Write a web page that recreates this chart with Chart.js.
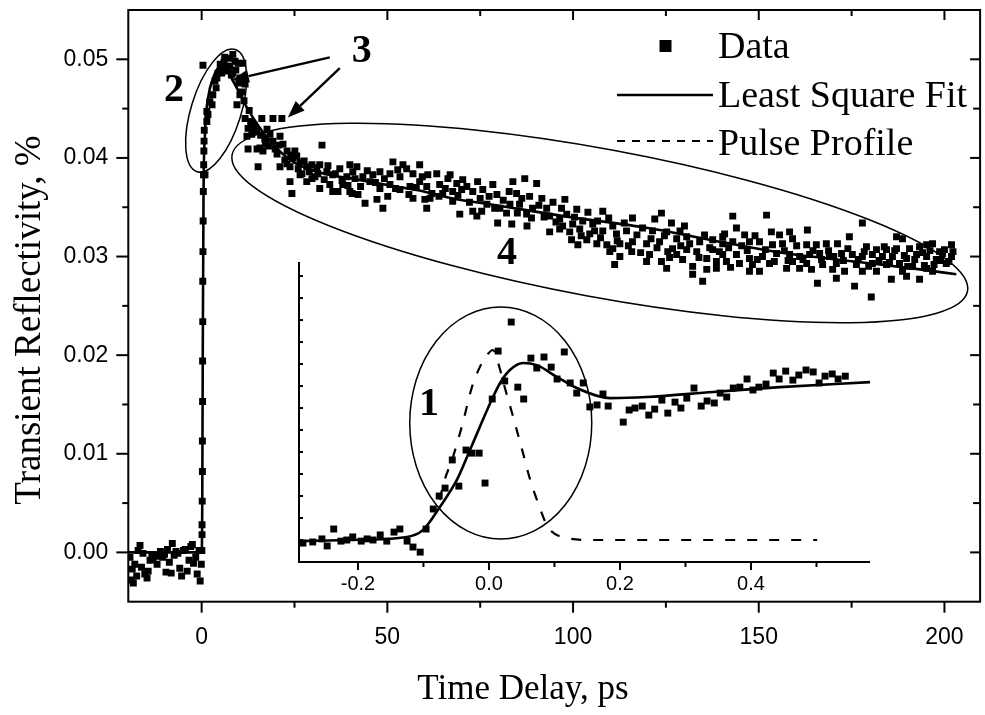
<!DOCTYPE html>
<html>
<head>
<meta charset="utf-8">
<script src="https://cdn.jsdelivr.net/npm/chart.js@4.4.0/dist/chart.umd.min.js"></script>
<style>
  html, body { margin: 0; padding: 0; background: #fff; }
  #wrap { position: relative; width: 985px; height: 715px; }
  #main { position: absolute; left: 0; top: 0; }
  #inset { position: absolute; left: 250px; top: 250px; }
</style>
</head>
<body>
<div id="wrap">
  <canvas id="main" width="985" height="715"></canvas>
  <canvas id="inset" width="640" height="370"></canvas>
</div>
<script>
"use strict";
const $ = id => document.getElementById(id);

/* ---------- data ---------- */
const seriesNames = ["Data", "Least Square Fit", "Pulse Profile"];
const xTicks = [0, 50, 100, 150, 200];
const xMinor = [25, 75, 125, 175];
const yTicks = [0, 0.01, 0.02, 0.03, 0.04, 0.05];
const yMinor = [0.005, 0.015, 0.025, 0.035, 0.045];
const insetXTicks = [-0.2, 0, 0.2, 0.4];
const insetXMinor = [-0.1, 0.1, 0.3, 0.5];
const insetYTicks = [1, 2, 3, 4, 5, 6, 7, 8, 9, 10, 11, 12, 13];

// [time delay ps, transient reflectivity %]
const dataPoints = [
  [-19.3,-0.0005],[-19.1,-0.0028],[-18.7,-0.0017],[-18.4,-0.0031],[-18.0,-0.0012],[-17.5,-0.0024],[-17.1,0.0002],[-16.6,0.0007],
  [-16.2,-0.0015],[-15.8,-0.0001],[-15.3,-0.0022],[-14.7,-0.0026],[-14.4,-0.0019],[-13.9,-0.0008],[-13.4,-0.0004],[-13.1,-0.0007],
  [-12.5,-0.0002],[-12.0,-0.0012],[-11.5,-0.0004],[-11.1,0.0001],[-10.5,-0.0005],[-10.0,-0.0002],[-9.6,-0.0020],[-9.2,0.0003],
  [-8.7,-0.0010],[-8.2,-0.0021],[-7.9,0.0009],[-7.4,-0.0003],[-6.9,0.0001],[-6.4,-0.0001],[-5.9,-0.0016],[-5.4,-0.0024],
  [-4.9,0.0002],[-4.4,0.0003],[-3.9,-0.0019],[-3.4,-0.0008],[-2.9,0.0006],[-2.5,0.0008],[-2.2,-0.0011],[-1.6,-0.0005],
  [-1.2,-0.0022],[-0.7,0.0002],[-0.4,-0.0029],[-0.1,-0.0012],[0.05,0.0002],
  [0.1,0.0028],[0.1,0.0018],[0.15,0.0052],[0.2,0.0082],[0.2,0.0113],[0.25,0.0153],[0.25,0.0194],[0.3,0.0234],[0.3,0.0275],
  [0.35,0.0305],[0.4,0.0336],[0.45,0.0366],[0.5,0.0383],[0.55,0.0393],[0.6,0.0407],[0.65,0.0417],[0.7,0.0428],[0.35,0.0494],
  [0.9,0.0383],[1.4,0.0437],[1.4,0.0447],[1.7,0.0444],[2.2,0.0457],[2.8,0.0454],[3.0,0.0464],[3.6,0.0478],[3.9,0.0471],
  [4.1,0.0481],[4.4,0.0486],[4.9,0.0488],[5.7,0.0491],[6.8,0.0488],[6.6,0.0493],[7.6,0.0501],[7.6,0.0493],[8.4,0.0505],
  [8.4,0.0486],[9.0,0.0498],[9.5,0.0454],[9.8,0.0496],[10.3,0.0481],[10.3,0.0464],[10.8,0.0467],[11.1,0.0496],[11.7,0.0475],
  [5.0,0.0495],[6.0,0.0497],[7.0,0.0490],[8.0,0.0484],[9.2,0.0489],[10.0,0.0476],[6.2,0.0502],[5.4,0.0486],[11.4,0.0458],
  [12.8,0.0448],[13.2,0.0437],[14.2,0.0433],[15.9,0.0423],[17.2,0.0414],
  [11.7,0.0440],[12.2,0.0422],[12.5,0.0430],[12.5,0.0409],[13.5,0.0424],[13.8,0.0429],[14.9,0.0427],[14.9,0.0409],[15.2,0.0391],
  [15.7,0.0410],[16.2,0.0440],[16.5,0.0407],[17.6,0.0429],[18.4,0.0424],[19.2,0.0440],[19.2,0.0417],[20.3,0.0404],[20.8,0.0413],
  [21.6,0.0440],[21.1,0.0422],[21.1,0.0391],[21.9,0.0414],[23.0,0.0407],[23.0,0.0394],[23.8,0.0391],[23.8,0.0376],[24.3,0.0364],
  [24.6,0.0400],[25.1,0.0407],[25.6,0.0402],[26.5,0.0396],[26.5,0.0383],[27.0,0.0384],[28.3,0.0391],[28.3,0.0376],[29.7,0.0393],
  [29.7,0.0379],[31.3,0.0384],[31.8,0.0393],[31.8,0.0369],[32.4,0.0413],[33.7,0.0386],[34.5,0.0373],[35.3,0.0383],[35.3,0.0366],
  [36.7,0.0366],[37.2,0.0389],[38.0,0.0373],[39.1,0.0381],[39.9,0.0393],[39.9,0.0366],[40.5,0.0364],[40.7,0.0386],[41.3,0.0379],
  [41.8,0.0391],[42.1,0.0363],[43.4,0.0381],[44.0,0.0354],[45.3,0.0376],[46.1,0.0383],[47.2,0.0358],[48.0,0.0386],[48.0,0.0369],
  [48.8,0.0349],[50.1,0.0361],[50.7,0.0384],[50.7,0.0373],[51.5,0.0396],[53.4,0.0381],[53.4,0.0368],[54.2,0.0393],[55.2,0.0389],
  [56.1,0.0371],[56.9,0.0384],[56.9,0.0359],[58.7,0.0393],[58.7,0.0376],[60.1,0.0358],[60.6,0.0371],[60.6,0.0349],[60.9,0.0383],
  [62.0,0.0364],[63.3,0.0384],[64.1,0.0373],[64.9,0.0364],[66.3,0.0379],[67.6,0.0366],[67.6,0.0356],[68.7,0.0374],[69.5,0.0343],
  [70.0,0.0368],[70.3,0.0378],[73.0,0.0366],[73.0,0.0346],[74.1,0.0341],[74.3,0.0376],[75.4,0.0346],[75.7,0.0368],[76.8,0.0353],
  [78.4,0.0373],[79.5,0.0363],[79.7,0.0334],[80.3,0.0349],[82.1,0.0344],[83.0,0.0353],[83.5,0.0333],[83.8,0.0376],[84.8,0.0364],
  [85.6,0.0353],[87.0,0.0379],[87.5,0.0343],[87.6,0.0331],[88.3,0.0361],[89.1,0.0349],[90.2,0.0374],[91.6,0.0359],[92.9,0.0349],
  [93.7,0.0341],[93.7,0.0325],[96.4,0.0338],[96.4,0.0328],[96.9,0.0349],[97.8,0.0358],[98.3,0.0343],[99.1,0.0325],[99.6,0.0317],
  [99.9,0.0333],[101.0,0.0348],[101.3,0.0312],[101.8,0.0328],[102.6,0.0336],[103.7,0.0317],[104.5,0.0323],[105.3,0.0333],[106.4,0.0313],
  [106.6,0.0336],[108.0,0.0346],[108.0,0.0326],[109.1,0.0312],[109.9,0.0305],[110.7,0.0331],[110.7,0.0308],[111.2,0.0292],[111.7,0.0323],
  [112.6,0.0313],[112.6,0.0300],[114.4,0.0326],[115.8,0.0305],[116.0,0.0339],[116.0,0.0315],[118.7,0.0329],[119.8,0.0313],[119.8,0.0295],
  [120.6,0.0302],[121.4,0.0326],[122.0,0.0338],[123.8,0.0344],[123.3,0.0315],[123.8,0.0295],[125.2,0.0325],[125.2,0.0288],[125.5,0.0305],
  [126.5,0.0334],[126.8,0.0308],[127.9,0.0318],[127.9,0.0302],[129.5,0.0297],[130.0,0.0331],[130.6,0.0320],[130.6,0.0307],[132.2,0.0290],
  [132.2,0.0282],[133.3,0.0305],[134.1,0.0315],[134.9,0.0275],[136.0,0.0298],[136.0,0.0287],[137.6,0.0317],[137.6,0.0307],[138.6,0.0295],
  [138.6,0.0288],[140.3,0.0320],[140.3,0.0313],[140.3,0.0302],[140.8,0.0323],[141.3,0.0295],[143.0,0.0341],[143.0,0.0315],[144.0,0.0329],
  [144.0,0.0302],[144.8,0.0293],[146.2,0.0322],[147.5,0.0315],[147.5,0.0298],[147.5,0.0285],[148.3,0.0292],[150.2,0.0315],[150.2,0.0285],
  [151.0,0.0300],[152.1,0.0342],[152.9,0.0293],[153.4,0.0325],[153.7,0.0312],[154.8,0.0303],[155.6,0.0322],[156.4,0.0313],[157.5,0.0288],
  [158.3,0.0325],[158.3,0.0302],[159.1,0.0318],[159.1,0.0295],[161.0,0.0300],[161.0,0.0288],[162.9,0.0312],[162.9,0.0293],[163.1,0.0327],
  [163.7,0.0302],[164.2,0.0287],[165.5,0.0312],[165.8,0.0273],[166.4,0.0303],[167.2,0.0292],[168.2,0.0313],[169.0,0.0300],[169.9,0.0287],
  [170.9,0.0293],[170.9,0.0278],[171.2,0.0313],[172.3,0.0303],[173.1,0.0285],[174.4,0.0320],[175.2,0.0302],[175.8,0.0270],[176.3,0.0292],
  [177.9,0.0334],[177.9,0.0300],[177.9,0.0285],[179.0,0.0310],[180.3,0.0259],[180.6,0.0302],[180.6,0.0293],[181.7,0.0307],[181.7,0.0285],
  [183.3,0.0300],[184.4,0.0307],[184.4,0.0292],[185.7,0.0277],[186.0,0.0300],[187.1,0.0320],[187.1,0.0308],[187.9,0.0293],[188.7,0.0318],
  [188.7,0.0285],[189.8,0.0298],[189.8,0.0280],[190.6,0.0308],[191.4,0.0290],[192.5,0.0302],[193.3,0.0310],[193.3,0.0277],[195.2,0.0312],
  [195.2,0.0300],[195.2,0.0288],[196.8,0.0313],[196.8,0.0285],[197.8,0.0297],[198.7,0.0305],[199.5,0.0303],[200.5,0.0293],[201.9,0.0312],
  [201.9,0.0300],
  [17.0,0.0419],[18.0,0.0412],[19.8,0.0409],[22.4,0.0398],[24.0,0.0403],[26.0,0.0389],[27.6,0.0397],[29.0,0.0386],[30.5,0.0381],
  [31.0,0.0390],[33.0,0.0378],[34.0,0.0392],[36.0,0.0384],[37.8,0.0377],[39.4,0.0372],[42.8,0.0371],[44.6,0.0387],[46.8,0.0375],
  [49.2,0.0379],[52.2,0.0369],[52.8,0.0388],[55.8,0.0363],[57.8,0.0370],[59.4,0.0381],[61.5,0.0359],[63.9,0.0361],[65.6,0.0369],
  [66.9,0.0383],[69.0,0.0362],[71.4,0.0371],[72.1,0.0355],[75.0,0.0359],[77.4,0.0361],[78.9,0.0349],[81.2,0.0357],[82.8,0.0366],
  [85.0,0.0344],[86.2,0.0359],[88.8,0.0339],[90.8,0.0352],[92.2,0.0340],[94.6,0.0355],[95.4,0.0335],[97.2,0.0331],[100.4,0.0340],
  [102.2,0.0321],[104.0,0.0345],[105.8,0.0326],[107.4,0.0319],[109.6,0.0339],[111.9,0.0316],[113.8,0.0334],[114.9,0.0311],[117.2,0.0322],
  [118.2,0.0304],[121.0,0.0318],[122.6,0.0309],[124.6,0.0321],[126.0,0.0299],[128.8,0.0326],[129.0,0.0311],[131.4,0.0313],[133.9,0.0299],
  [135.4,0.0322],[136.8,0.0309],[139.4,0.0305],[141.9,0.0309],[142.4,0.0289],[145.4,0.0311],[146.9,0.0306],[149.0,0.0321],[149.6,0.0297],
  [151.8,0.0307],[154.2,0.0295],[156.9,0.0306],[157.9,0.0296],[160.2,0.0311],[161.9,0.0297],[164.6,0.0306],[166.9,0.0297],[168.8,0.0306],
  [170.2,0.0300],[172.8,0.0296],[174.0,0.0308],[176.8,0.0297],[178.4,0.0305],[179.6,0.0290],[182.4,0.0296],[183.8,0.0310],[185.2,0.0294],
  [186.6,0.0306],[189.2,0.0301],[190.1,0.0290],[192.0,0.0297],[194.1,0.0304],[194.6,0.0291],[196.1,0.0306],[197.2,0.0292],[199.0,0.0296],
  [200.0,0.0307],[201.2,0.0295],[202.3,0.0305]
];

const fitPoints = [
  [-19.75,0],[0.0,0],[0.15,0.004],[0.3,0.02],[0.5,0.036],[0.9,0.0425],[1.8,0.0462],[3.0,0.0480],[4.0,0.0489],
  [5.3,0.0492],[6.3,0.0491],[8.3,0.0479],[10.3,0.0465],[12.2,0.0451],[15.2,0.0433],[20.2,0.0410],[25.1,0.0395],
  [32.0,0.0385],[42.0,0.0378],[50.8,0.0372],[59.8,0.0366],[68.7,0.0358],[77.6,0.0353],[97.4,0.0341],[120.2,0.0329],
  [141.0,0.0314],[157.8,0.0303],[175.6,0.0295],[193.4,0.0287],[203.2,0.0282]
];

// inset: [time delay ps, signal (arb. units)]
const insetData = [
  [-0.284,0.86],[-0.269,0.91],[-0.255,1.05],[-0.247,0.73],[-0.237,1.5],[-0.226,0.95],[-0.217,1.0],[-0.208,1.14],
  [-0.195,0.95],[-0.186,1.05],[-0.177,1.0],[-0.166,1.23],[-0.156,0.95],[-0.145,1.36],[-0.136,1.5],[-0.125,0.95],
  [-0.116,0.68],[-0.105,0.45],[-0.096,1.5],[-0.085,2.41],[-0.076,3.0],[-0.067,3.36],[-0.056,4.64],[-0.046,3.45],
  [-0.035,5.09],[-0.026,4.95],[-0.015,4.95],[-0.006,3.59],[0.005,7.41],[0.014,9.59],[0.024,8.23],[0.034,10.91],
  [0.044,7.95],[0.053,7.41],[0.064,9.27],[0.073,8.82],[0.084,9.32],[0.095,8.86],[0.104,8.32],[0.115,9.55],
  [0.124,8.14],[0.134,7.68],[0.144,8.14],[0.154,7.05],[0.165,7.14],[0.174,7.64],[0.182,7.09],[0.205,6.36],
  [0.214,6.91],[0.223,7.0],[0.234,7.09],[0.244,6.68],[0.253,6.95],[0.264,7.36],[0.273,6.77],[0.284,7.27],
  [0.293,7.0],[0.302,7.45],[0.313,7.91],[0.324,7.09],[0.333,7.32],[0.344,7.23],[0.353,7.68],[0.363,7.5],
  [0.373,7.91],[0.383,7.95],[0.394,8.32],[0.403,7.82],[0.412,7.95],[0.423,8.09],[0.434,8.59],[0.443,8.32],
  [0.453,8.68],[0.464,8.27],[0.473,8.5],[0.484,8.73],[0.495,8.64],[0.504,8.14],[0.513,8.45],[0.524,8.55],
  [0.533,8.32],[0.544,8.45]
];
const insetFit = [
  [-0.289,0.95],[-0.212,1.0],[-0.125,1.14],[-0.101,1.45],[-0.075,2.5],[-0.049,3.73],[-0.029,5.09],[-0.014,6.14],
  [0.002,7.23],[0.017,8.14],[0.032,8.73],[0.052,9.05],[0.073,8.95],[0.104,8.41],[0.134,7.91],[0.185,7.45],
  [0.241,7.5],[0.342,7.73],[0.444,7.95],[0.582,8.18]
];
const pulseProfile = [
  [-0.075,2.82],[-0.070,3.5],[-0.055,4.77],[-0.040,6.32],[-0.026,7.95],[-0.014,8.86],[-0.003,9.41],[0.006,9.64],
  [0.014,9.05],[0.024,7.95],[0.037,6.59],[0.052,4.95],[0.063,3.73],[0.075,2.68],[0.090,1.59],[0.119,1.09],
  [0.154,1.0],[0.501,1.0]
];

/* ---------- annotations (centres in data units, sizes in px) ---------- */
const mainEllipses = [
  { x: 107.2, y: 0.0334, rx: 374, ry: 74, rot: 10.5 },
  { x: 3.9, y: 0.0448, rx: 64, ry: 25, rot: -72.7 }
];
const mainArrows = [
  { from: [34.5, 0.0502], to: [8.15, 0.0479] },
  { from: [37.2, 0.0491], to: [23.2, 0.0441] }
];
const mainMarks = [
  { text: "2", x: -7.45, y: 0.0468 },
  { text: "3", x: 43.1, y: 0.0508 },
  { text: "4", x: 82.2, y: 0.0303 }
];
const insetEllipse = { x: 0.018, y: 6.32, rx: 91, ry: 116 };
const insetMark = { text: "1", x: -0.0916, y: 7.14 };

const SANS = "'Liberation Sans', Arial, sans-serif";
const SERIF = "'Liberation Serif', 'Times New Roman', serif";
const pts = arr => arr.map(([x, y]) => ({ x, y }));
const noPad = s => { s.paddingTop = 0; s.paddingBottom = 0; s.paddingLeft = 0; s.paddingRight = 0; };

function line(ctx, x1, y1, x2, y2) {
  ctx.beginPath(); ctx.moveTo(x1, y1); ctx.lineTo(x2, y2); ctx.stroke();
}

/* ---------- main frame + ticks ---------- */
const mainFrame = {
  id: "mainFrame",
  afterDatasetsDraw(chart) {
    const { ctx, chartArea: a, scales: { x, y } } = chart;
    ctx.save();
    ctx.strokeStyle = "#000";
    ctx.lineWidth = 2;
    ctx.strokeRect(a.left, a.top, a.right - a.left, a.bottom - a.top);
    xTicks.forEach(v => { const p = x.getPixelForValue(v);
      line(ctx, p, a.bottom, p, a.bottom + 11); line(ctx, p, a.top, p, a.top + 10); });
    xMinor.forEach(v => { const p = x.getPixelForValue(v);
      line(ctx, p, a.bottom, p, a.bottom + 6); line(ctx, p, a.top, p, a.top + 6); });
    yTicks.forEach(v => { const p = y.getPixelForValue(v);
      line(ctx, a.left - 12, p, a.left, p); line(ctx, a.right - 10, p, a.right, p); });
    yMinor.forEach(v => { const p = y.getPixelForValue(v);
      line(ctx, a.left - 6, p, a.left, p); line(ctx, a.right - 7, p, a.right, p); });
    ctx.restore();
  }
};

/* ---------- main annotations, titles, legend ---------- */
const mainDecor = {
  id: "mainDecor",
  afterDraw(chart) {
    const { ctx, scales: { x, y } } = chart;
    ctx.save();
    ctx.strokeStyle = "#000"; ctx.fillStyle = "#000";

    ctx.lineWidth = 1.5;
    mainEllipses.forEach(e => {
      ctx.beginPath();
      ctx.ellipse(x.getPixelForValue(e.x), y.getPixelForValue(e.y), e.rx, e.ry, e.rot * Math.PI / 180, 0, 2 * Math.PI);
      ctx.stroke();
    });

    ctx.lineWidth = 2.4;
    mainArrows.forEach(ar => {
      const x1 = x.getPixelForValue(ar.from[0]), y1 = y.getPixelForValue(ar.from[1]);
      const x2 = x.getPixelForValue(ar.to[0]), y2 = y.getPixelForValue(ar.to[1]);
      const ang = Math.atan2(y2 - y1, x2 - x1), hl = 17, hw = 6.5;
      const bx = x2 - hl * Math.cos(ang), by = y2 - hl * Math.sin(ang);
      line(ctx, x1, y1, bx, by);
      ctx.beginPath();
      ctx.moveTo(x2, y2);
      ctx.lineTo(bx + hw * Math.sin(ang), by - hw * Math.cos(ang));
      ctx.lineTo(bx - hw * Math.sin(ang), by + hw * Math.cos(ang));
      ctx.closePath(); ctx.fill();
    });

    ctx.font = "bold 40px " + SERIF;
    ctx.textAlign = "center"; ctx.textBaseline = "middle";
    mainMarks.forEach(m => ctx.fillText(m.text, x.getPixelForValue(m.x), y.getPixelForValue(m.y)));

    // axis titles
    ctx.font = "35px " + SERIF;
    ctx.textBaseline = "alphabetic";
    ctx.fillText("Time Delay, ps", 523, 699);
    ctx.save();
    ctx.translate(30, 320); ctx.rotate(-Math.PI / 2);
    ctx.font = "37px " + SERIF; ctx.textBaseline = "middle";
    ctx.fillText("Transient Reflectivity, %", 0, 0);
    ctx.restore();

    // legend
    ctx.font = "38px " + SERIF;
    ctx.textAlign = "left"; ctx.textBaseline = "alphabetic";
    ctx.fillRect(659.5, 40, 12, 12);
    ctx.fillText(seriesNames[0], 718, 58);
    ctx.lineWidth = 2.4;
    line(ctx, 617, 95, 713, 95);
    ctx.fillText(seriesNames[1], 718, 107);
    ctx.lineWidth = 2;
    ctx.setLineDash([8, 7]);
    line(ctx, 617, 141, 713, 141);
    ctx.setLineDash([]);
    ctx.fillText(seriesNames[2], 718, 155);
    ctx.restore();
  }
};

/* ---------- main chart ---------- */
new Chart($("main"), {
  type: "scatter",
  data: { datasets: [
    { label: seriesNames[0], data: pts(dataPoints), pointStyle: "rect", pointRadius: 4.9,
      backgroundColor: "#000", borderColor: "#000", pointBorderWidth: 0, showLine: false },
    { label: seriesNames[1], data: pts(fitPoints), showLine: true, pointRadius: 0,
      borderColor: "#000", borderWidth: 2.6, cubicInterpolationMode: "monotone" }
  ] },
  options: {
    responsive: false, animation: false, events: [],
    layout: { padding: { top: 10, right: 4.5, left: 0, bottom: 0 } },
    scales: {
      x: { type: "linear", min: -19.75, max: 209.6,
        grid: { display: false, drawTicks: false }, border: { display: false },
        afterBuildTicks: s => { s.ticks = xTicks.map(v => ({ value: v })); },
        afterFit: s => { s.height = 715 - 601.7; noPad(s); },
        ticks: { padding: 22, color: "#000", font: { family: SANS, size: 23 }, callback: v => String(v) } },
      y: { type: "linear", min: -0.005, max: 0.055,
        grid: { display: false, drawTicks: false }, border: { display: false },
        afterBuildTicks: s => { s.ticks = yTicks.map(v => ({ value: v })); },
        afterFit: s => { s.width = 128.3; noPad(s); },
        ticks: { padding: 20, color: "#000", font: { family: SANS, size: 23 }, callback: v => v.toFixed(2) } }
    },
    plugins: { legend: { display: false }, tooltip: { enabled: false } }
  },
  plugins: [mainFrame, mainDecor]
});

/* ---------- inset ---------- */
const insetDecor = {
  id: "insetDecor",
  afterDatasetsDraw(chart) {
    const { ctx, chartArea: a, scales: { x, y } } = chart;
    ctx.save();
    ctx.strokeStyle = "#000"; ctx.fillStyle = "#000";
    ctx.lineWidth = 2;
    ctx.beginPath();
    ctx.moveTo(a.left, a.top); ctx.lineTo(a.left, a.bottom); ctx.lineTo(a.right, a.bottom);
    ctx.stroke();
    insetXTicks.forEach(v => { const p = x.getPixelForValue(v); line(ctx, p, a.bottom, p, a.bottom + 8); });
    insetXMinor.forEach(v => { const p = x.getPixelForValue(v); line(ctx, p, a.bottom, p, a.bottom + 5); });
    insetYTicks.forEach(v => { const p = y.getPixelForValue(v); line(ctx, a.left, p, a.left + 4, p); });

    ctx.lineWidth = 1.5;
    ctx.beginPath();
    ctx.ellipse(x.getPixelForValue(insetEllipse.x), y.getPixelForValue(insetEllipse.y),
      insetEllipse.rx, insetEllipse.ry, 0, 0, 2 * Math.PI);
    ctx.stroke();

    ctx.font = "bold 40px " + SERIF;
    ctx.textAlign = "center"; ctx.textBaseline = "middle";
    ctx.fillText(insetMark.text, x.getPixelForValue(insetMark.x), y.getPixelForValue(insetMark.y));
    ctx.restore();
  }
};

new Chart($("inset"), {
  type: "scatter",
  data: { datasets: [
    { label: seriesNames[0], data: pts(insetData), pointStyle: "rect", pointRadius: 4.9,
      backgroundColor: "#000", borderColor: "#000", pointBorderWidth: 0, showLine: false },
    { label: seriesNames[1], data: pts(insetFit), showLine: true, pointRadius: 0,
      borderColor: "#000", borderWidth: 2.6, cubicInterpolationMode: "monotone" },
    { label: seriesNames[2], data: pts(pulseProfile), showLine: true, pointRadius: 0,
      borderColor: "#000", borderWidth: 2.2, borderDash: [10, 12], cubicInterpolationMode: "monotone" }
  ] },
  options: {
    responsive: false, animation: false, events: [],
    layout: { padding: { top: 12, right: 20, left: 0, bottom: 0 } },
    scales: {
      x: { type: "linear", min: -0.29, max: 0.5817,
        grid: { display: false, drawTicks: false }, border: { display: false },
        afterBuildTicks: s => { s.ticks = insetXTicks.map(v => ({ value: v })); },
        afterFit: s => { s.height = 58; noPad(s); },
        ticks: { padding: 10, color: "#000", font: { family: SANS, size: 20 }, callback: v => v.toFixed(1) } },
      y: { type: "linear", min: 0, max: 13.64,
        grid: { display: false, drawTicks: false }, border: { display: false },
        afterFit: s => { s.width = 49; noPad(s); },
        ticks: { display: false } }
    },
    plugins: { legend: { display: false }, tooltip: { enabled: false } }
  },
  plugins: [insetDecor]
});
</script>
</body>
</html>
